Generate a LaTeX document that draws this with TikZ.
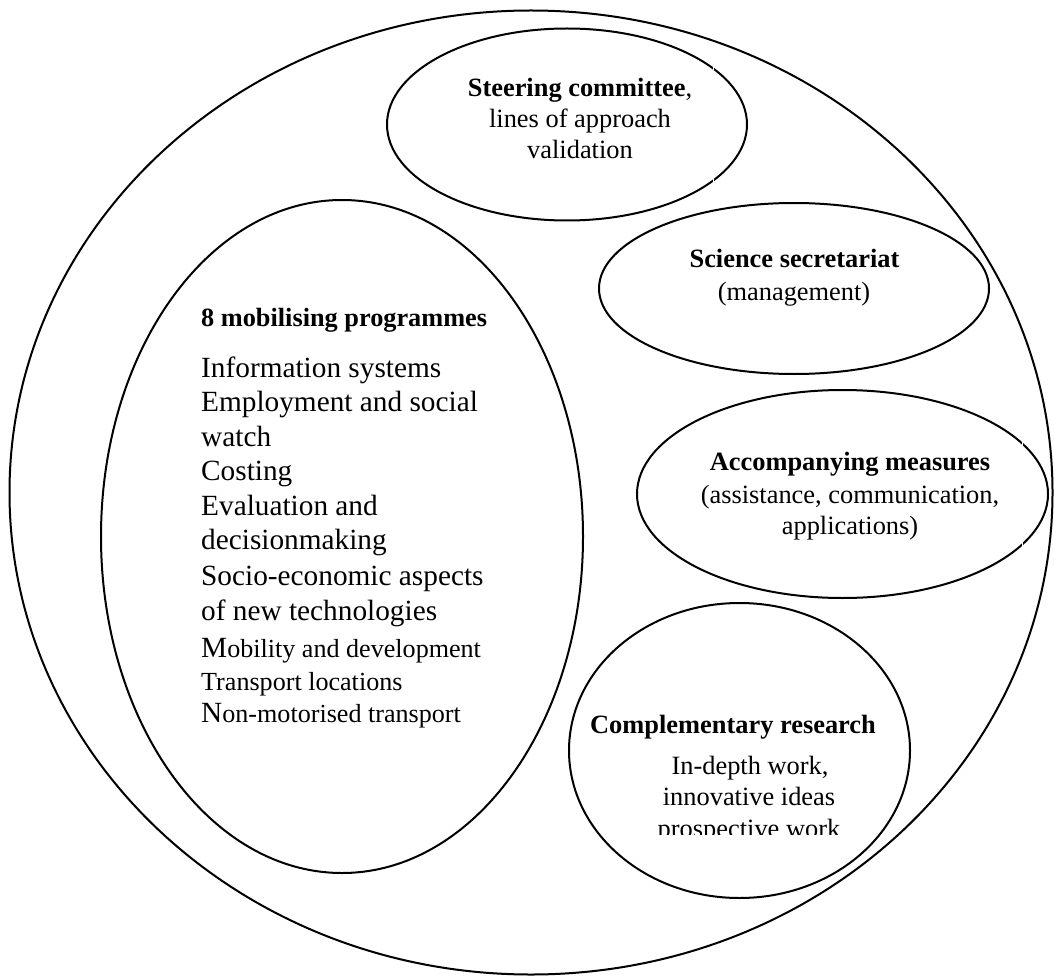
\documentclass[tikz,border=0pt]{standalone}
\usepackage{fontspec}
\setmainfont{Liberation Serif}
\usetikzlibrary{shapes.geometric}
\tikzset{
  bubble/.style={draw=black, ellipse, line width=2pt, inner sep=0pt, outer sep=0pt},
  etext/.style={inner sep=0pt, anchor=base, font=\fontsize{26.4}{30}\selectfont},
  lhead/.style={inner sep=0pt, anchor=base west, font=\fontsize{26.3}{30}\selectfont\bfseries},
  lbig/.style={inner sep=0pt, anchor=base west, font=\fontsize{29.3}{34}\selectfont},
  lsmall/.style={inner sep=0pt, anchor=base west, font=\fontsize{26.1}{30}\selectfont},
  gap/.style={draw=white, line width=1.3pt}
}
\begin{document}
\begin{tikzpicture}[x=1pt, y=-1pt]
\useasboundingbox (0,0) rectangle (1054,976);
\fill[white] (0,0) rectangle (1054,976);

% ellipses
\node[bubble, minimum width=1043pt, minimum height=964pt] (outer) at (531,492.5) {};
\node[bubble, minimum width=360pt, minimum height=192pt] (steer) at (567,124.5) {};
\node[bubble, minimum width=390pt, minimum height=171pt] (sci) at (794,288.5) {};
\node[bubble, minimum width=411pt, minimum height=208pt] (acc) at (842.5,494) {};
\node[bubble, minimum width=341pt, minimum height=295pt] (comp) at (739.5,750.5) {};
\node[bubble, minimum width=482pt, minimum height=673pt] (mob) at (342,536.5) {};

% small white breaks in the outlines
\draw[gap] (713.5,63) -- (713.5,74);
\draw[gap] (713.5,175) -- (713.5,186);
\draw[gap] (1022.5,439) -- (1022.5,450);
\draw[gap] (1022.5,538) -- (1022.5,549);

% steering committee
\node[etext] (st1) at (580,97) {\textbf{Steering committee},};
\node[etext] (st2) at (580,128) {lines of approach};
\node[etext] (st3) at (580,159) {validation};

% science secretariat
\node[etext] (sc1) at (794.5,268) {\textbf{Science secretariat}};
\node[etext] (sc2) at (794,300) {(management)};

% accompanying measures
\node[etext] (ac1) at (850,470) {\textbf{Accompanying measures}};
\node[etext] (ac2) at (850,503) {(assistance, communication,};
\node[etext] (ac3) at (850,534) {applications)};

% complementary research
\node[etext] (cr1) at (733,733) {\textbf{Complementary research}};
\node[etext] (cr2) at (750,774) {In-depth work,};
\node[etext] (cr3) at (749,805) {innovative ideas};
\begin{scope}
\clip (600,780) rectangle (900,834.5);
\node[etext] (cr4) at (749,837) {prospective work};
\end{scope}

% mobilising programmes
\node[lhead] (m0) at (201,326) {8 mobilising programmes};
\node[lbig] (m1) at (201,377) {Information systems};
\node[lbig] (m2) at (201,411) {Employment and social};
\node[lbig] (m3) at (201,446) {watch};
\node[lbig] (m4) at (201,480) {Costing};
\node[lbig] (m5) at (201,515) {Evaluation and};
\node[lbig] (m6) at (201,549) {decisionmaking};
\node[lbig] (m7) at (201,585) {Socio-economic aspects};
\node[lbig] (m8) at (201,620) {of new technologies};
\node[lsmall] (m9) at (201,657) {{\fontsize{29.3}{34}\selectfont M}obility and development};
\node[lsmall] (m10) at (201,690) {Transport locations};
\node[lsmall] (m11) at (201,722) {{\fontsize{29.3}{34}\selectfont N}on-motorised transport};
\end{tikzpicture}
\end{document}
